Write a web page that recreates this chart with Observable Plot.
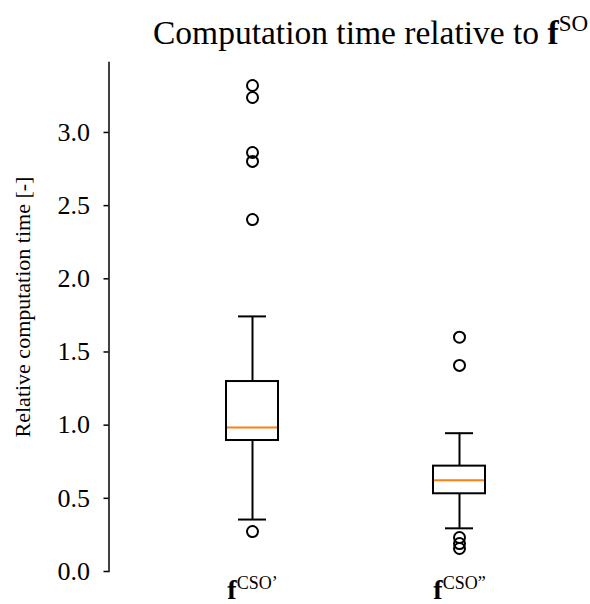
<!DOCTYPE html>
<html>
<head>
<meta charset="utf-8">
<script src="https://cdn.jsdelivr.net/npm/d3@7"></script>
<script src="https://cdn.jsdelivr.net/npm/@observablehq/plot@0.6"></script>
<style>
  html, body { margin: 0; padding: 0; background: white; overflow: hidden; }
</style>
</head>
<body>
<div id="chart"></div>
<script>
// ---- data ----
const categories = ["CSO’", "CSO”"];
const whiskerLow  = [0.355, 0.295];
const q1          = [0.895, 0.531];
const median      = [0.984, 0.624];
const q3          = [1.298, 0.720];
const whiskerHigh = [1.743, 0.945];
const outliers = [
  [0.273, 2.405, 2.802, 2.863, 3.239, 3.321],
  [0.157, 0.191, 0.232, 1.408, 1.601]
];
const yTicks = [0, 0.5, 1.0, 1.5, 2.0, 2.5, 3.0];
const yMax = 3.478;

const titleText = "Computation time relative to ";
const titleBold = "f";
const titleSup = "SO";
const yLabel = "Relative computation time [-]";

const boxes = categories.map((c, i) => ({
  cat: c, lo: whiskerLow[i], q1: q1[i], med: median[i], q3: q3[i], hi: whiskerHigh[i]
}));
const outlierRows = categories.flatMap((c, i) => outliers[i].map(v => ({cat: c, v})));

const serif = "'Liberation Serif', 'Times New Roman', Times, serif";
const lw = 2;

const svg = Plot.plot({
  width: 590,
  height: 604,
  marginTop: 62,
  marginBottom: 33,
  marginLeft: 108.5,
  marginRight: 27.5,
  style: {fontFamily: serif, background: "white", color: "black"},
  x: {type: "band", domain: categories, range: [148.5, 562.5], paddingInner: 0.749, paddingOuter: 0.3745, align: 0.5},
  y: {domain: [0, yMax]},
  marks: [
    Plot.frame({anchor: "left", strokeWidth: 1.5}),
    Plot.axisY({ticks: yTicks, tickFormat: ".1f", tickSize: 5, tickPadding: 14, fontSize: 26, strokeWidth: 1.5, label: null}),
    Plot.axisX({tickSize: 0, tickPadding: 8, fontSize: 28, label: null}),
    Plot.ruleX(boxes, {x: "cat", y1: "lo", y2: "q1", strokeWidth: lw}),
    Plot.ruleX(boxes, {x: "cat", y1: "q3", y2: "hi", strokeWidth: lw}),
    Plot.tickY(boxes, {x: "cat", y: "lo", insetLeft: 12, insetRight: 12, strokeWidth: lw}),
    Plot.tickY(boxes, {x: "cat", y: "hi", insetLeft: 12, insetRight: 12, strokeWidth: lw}),
    Plot.barY(boxes, {x: "cat", y1: "q1", y2: "q3", fill: "white", stroke: "black", strokeWidth: lw}),
    Plot.tickY(boxes, {x: "cat", y: "med", stroke: "#ff7f0e", strokeWidth: lw, insetLeft: 1, insetRight: 1}),
    Plot.dot(outlierRows, {x: "cat", y: "v", r: 5.5, stroke: "black", strokeWidth: lw, fill: "none"}),
    Plot.text([yLabel], {frameAnchor: "left", textAnchor: "middle", rotate: -90, dx: -86, dy: -10, fontSize: 22})
  ]
});

// x tick labels: bold "f" with superscript
svg.querySelectorAll('g[aria-label="x-axis tick label"] text').forEach(t => {
  const sup = t.textContent;
  t.textContent = "";
  const f = document.createElementNS("http://www.w3.org/2000/svg", "tspan");
  f.setAttribute("font-weight", "bold");
  f.setAttribute("font-size", "28");
  f.textContent = "f";
  const s = document.createElementNS("http://www.w3.org/2000/svg", "tspan");
  s.setAttribute("font-size", "18");
  s.setAttribute("dy", "-10");
  s.textContent = sup;
  t.appendChild(f);
  t.appendChild(s);
});

// title
const title = d3.select(svg).append("text")
  .attr("x", 153).attr("y", 44)
  .attr("text-anchor", "start")
  .attr("font-size", 33.5)
  .attr("font-family", serif)
  .attr("fill", "black");
title.append("tspan").text(titleText);
title.append("tspan").attr("font-weight", "bold").text(titleBold);
title.append("tspan").attr("font-size", 23).attr("dy", -13).text(titleSup);

document.getElementById("chart").appendChild(svg);
</script>
</body>
</html>
